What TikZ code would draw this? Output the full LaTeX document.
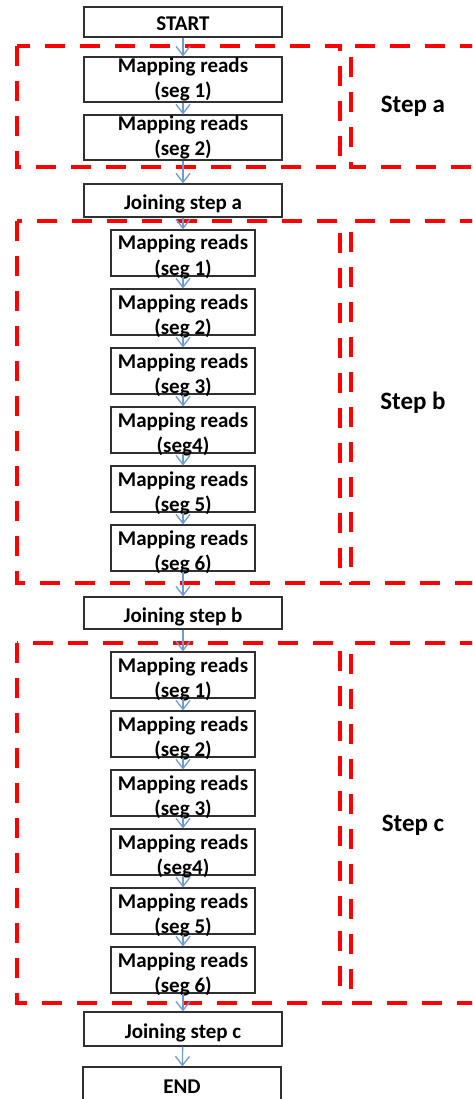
\documentclass[tikz,border=0pt]{standalone}
\usepackage{fontspec}
\setmainfont{Carlito}
\usetikzlibrary{arrows.meta}
\definecolor{flowblue}{HTML}{6F9BD1}
\definecolor{boxgray}{HTML}{303030}
\begin{document}
\begin{tikzpicture}[x=1pt,y=-1pt,
    box/.style={draw=boxgray,line width=1.2pt,fill=white,inner sep=0pt,align=center,
      font=\fontsize{21}{25}\selectfont\bfseries},
    wide/.style={box,minimum width=198pt,text height=19pt,text depth=1pt},
    segbox/.style={box,minimum width=144pt,minimum height=46pt,text height=45pt,text depth=1pt},
    stepline/.style={red,line width=4pt,dash pattern=on 20pt off 15pt},
    flow/.style={flowblue,line width=1.3pt,-{Straight Barb[length=9pt,width=14pt]}},
    steplabel/.style={font=\fontsize{25}{30}\selectfont\bfseries}]
    \useasboundingbox (0,0) rectangle (472,1099);
    \clip (0,0) rectangle (472,1099);
    % dashed step frames
    \draw[stepline] (17,46) rectangle (340,167);
    \draw[stepline] (480,46) -- (351,46) -- (351,167) -- (480,167);
    \draw[stepline] (17,221) rectangle (340,583);
    \draw[stepline] (480,221) -- (351,221) -- (351,583) -- (480,583);
    \draw[stepline] (17,643) rectangle (340,1003);
    \draw[stepline] (480,643) -- (351,643) -- (351,1003) -- (480,1003);
    \node[steplabel] (labela) at (413,106) {Step a};
    \node[steplabel] (labelb) at (413,403) {Step b};
    \node[steplabel] (labelc) at (413,825) {Step c};
    % boxes
    \node[wide,minimum height=30pt] (start) at (183,22) {START};
    \node[wide,minimum height=45pt,text height=41pt,text depth=4pt] (a1) at (183,79.5) {Mapping reads\\(seg 1)};
    \node[wide,minimum height=45pt,text height=41pt,text depth=4pt] (a2) at (183,137.5) {Mapping reads\\(seg 2)};
    \node[wide,minimum height=33pt] (ja) at (183,200.5) {Joining step a};
    \foreach \i/\seg in {1/seg 1,2/seg 2,3/seg 3,4/seg4,5/seg 5,6/seg 6} {
        \node[segbox] (b\i) at (183,194+59*\i) {Mapping reads\\(\seg)};
        \node[segbox] (c\i) at (183,616+59*\i) {Mapping reads\\(\seg)};
    }
    \node[wide,minimum height=32pt] (jb) at (183,613) {Joining step b};
    \node[wide,minimum height=34pt] (jc) at (183,1029) {Joining step c};
    \node[wide,minimum height=34pt] (stop) at (182,1084) {END};
    % arrows
    \draw[flow] (start) -- (a1);
    \draw[flow] (a1) -- (a2);
    \draw[flow] (a2) -- (ja);
    \draw[flow] (ja) -- (b1);
    \foreach \i [count=\j from 2] in {1,...,5} {
        \draw[flow] (b\i) -- (b\j);
        \draw[flow] (c\i) -- (c\j);
    }
    \draw[flow] (b6) -- (jb);
    \draw[flow] (jb) -- (c1);
    \draw[flow] (c6) -- (jc);
    \draw[flow] (jc) -- (stop);
\end{tikzpicture}
\end{document}
